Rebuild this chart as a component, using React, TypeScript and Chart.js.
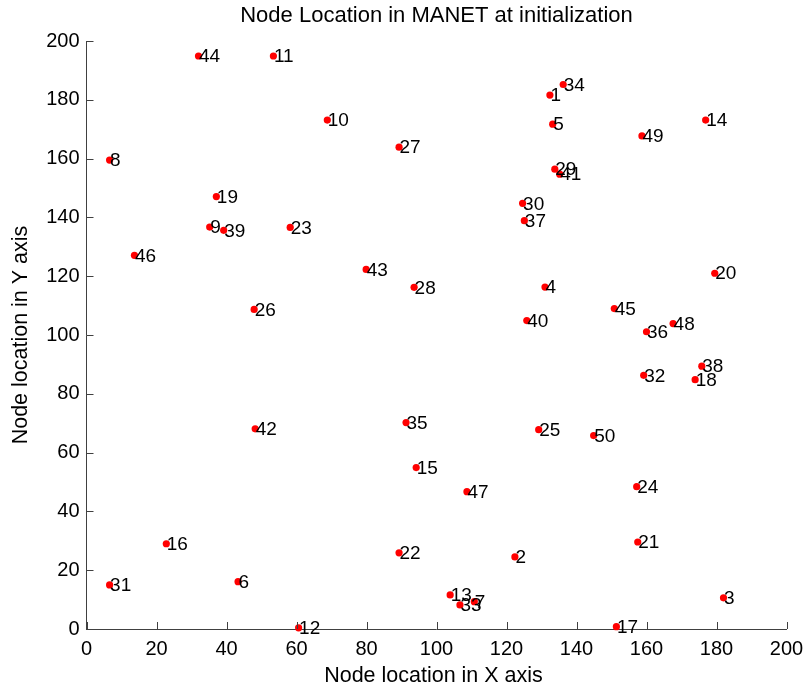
import React, { useEffect, useRef } from "react";
import { Chart, registerables } from "chart.js";

Chart.register(...registerables);

const nodeIds: string[] = [
  "1", "2", "3", "4", "5", "6", "7", "8", "9", "10",
  "11", "12", "13", "14", "15", "16", "17", "18", "19", "20",
  "21", "22", "23", "24", "25", "26", "27", "28", "29", "30",
  "31", "32", "33", "34", "35", "36", "37", "38", "39", "40",
  "41", "42", "43", "44", "45", "46", "47", "48", "49", "50",
];

const xs: number[] = [
  132.4, 122.4, 182.0, 131.0, 133.2, 43.3, 110.8, 6.6, 35.2, 68.8,
  53.4, 60.6, 103.9, 176.9, 94.2, 22.8, 151.4, 173.9, 37.1, 179.5,
  157.5, 89.3, 58.2, 157.2, 129.2, 47.9, 89.3, 93.6, 133.8, 124.6,
  6.6, 159.2, 106.7, 136.2, 91.3, 160.0, 125.1, 175.8, 39.2, 125.8,
  135.2, 48.2, 79.9, 32.0, 150.8, 13.7, 108.7, 167.6, 158.7, 144.9,
];

const ys: number[] = [
  181.6, 24.5, 10.6, 116.3, 171.7, 16.1, 9.3, 159.5, 136.7, 173.1,
  194.9, 0.4, 11.6, 173.1, 54.9, 29.0, 0.8, 84.8, 147.1, 121.0,
  29.6, 25.9, 136.6, 48.4, 67.8, 108.7, 163.9, 116.2, 156.4, 144.8,
  15.0, 86.3, 8.2, 185.2, 70.2, 101.1, 138.9, 89.4, 135.6, 104.9,
  154.7, 68.1, 122.3, 194.9, 109.0, 127.1, 46.7, 103.9, 167.7, 65.8,
];

const axisTicks: number[] = [0, 20, 40, 60, 80, 100, 120, 140, 160, 180, 200];

const chartTitle = "Node Location in MANET at initialization";
const xTitle = "Node location in X axis";
const yTitle = "Node location in Y axis";

const FONT = "'Liberation Sans', Arial, Helvetica, sans-serif";

const decorPlugin = {
  id: "matlabDecor",
  afterDatasetsDraw(chart: any) {
    const ctx = chart.ctx;
    const meta = chart.getDatasetMeta(0);
    ctx.save();
    ctx.fillStyle = "#000";
    ctx.font = `19px ${FONT}`;
    ctx.textAlign = "left";
    ctx.textBaseline = "middle";
    meta.data.forEach((el: any, i: number) => {
      ctx.fillText(nodeIds[i], el.x + 0.5, el.y + 1);
    });
    ctx.restore();
  },
  afterDraw(chart: any) {
    const ctx = chart.ctx;
    const area = chart.chartArea;
    const xs_ = chart.scales.x;
    const ys_ = chart.scales.y;
    ctx.save();
    ctx.strokeStyle = "#404040";
    ctx.lineWidth = 1;
    ctx.beginPath();
    axisTicks.forEach((v) => {
      const px = Math.round(xs_.getPixelForValue(v)) + 0.5;
      ctx.moveTo(px, area.bottom);
      ctx.lineTo(px, area.bottom - 7);
      const py = Math.round(ys_.getPixelForValue(v)) + 0.5;
      ctx.moveTo(area.left, py);
      ctx.lineTo(area.left + 7, py);
    });
    ctx.stroke();

    ctx.fillStyle = "#000";
    ctx.textAlign = "center";
    ctx.textBaseline = "middle";
    const cx = (area.left + area.right) / 2;
    ctx.font = `22px ${FONT}`;
    ctx.fillText(chartTitle, cx, 16);
    ctx.font = `21.5px ${FONT}`;
    ctx.fillText(xTitle, cx - 3, 676);
    ctx.translate(21, (area.top + area.bottom) / 2);
    ctx.rotate(-Math.PI / 2);
    ctx.fillText(yTitle, 0, 0);
    ctx.restore();
  },
};

export default function App() {
  const canvasRef = useRef<HTMLCanvasElement | null>(null);

  useEffect(() => {
    if (!canvasRef.current) return;
    const points = xs.map((x, i) => ({ x, y: ys[i] }));
    const chart = new Chart(canvasRef.current, {
      type: "scatter",
      data: {
        datasets: [
          {
            label: "Nodes",
            data: points,
            backgroundColor: "#ff0000",
            borderColor: "#ff0000",
            borderWidth: 0,
            pointRadius: 3.6,
            pointHoverRadius: 3.6,
            clip: false as any,
          },
        ],
      },
      options: {
        animation: false,
        responsive: false,
        devicePixelRatio: 1,
        layout: { padding: { top: 41, right: 17.5, left: 0, bottom: 0 } },
        plugins: {
          legend: { display: false },
          title: { display: false },
          tooltip: { enabled: false },
        },
        scales: {
          x: {
            type: "linear",
            min: 0,
            max: 200,
            afterFit: (scale: any) => {
              scale.height = 62;
              scale.paddingLeft = 0;
              scale.paddingRight = 0;
            },
            afterBuildTicks: (scale: any) => {
              scale.ticks = axisTicks.map((v) => ({ value: v }));
            },
            grid: { display: false, drawTicks: false },
            border: { display: true, color: "#404040", width: 1 },
            ticks: {
              autoSkip: false,
              maxRotation: 0,
              padding: 8,
              color: "#000",
              font: { family: FONT, size: 20 },
            },
          },
          y: {
            type: "linear",
            min: 0,
            max: 200,
            afterFit: (scale: any) => {
              scale.width = 86.5;
              scale.paddingTop = 0;
              scale.paddingBottom = 0;
            },
            afterBuildTicks: (scale: any) => {
              scale.ticks = axisTicks.map((v) => ({ value: v }));
            },
            grid: { display: false, drawTicks: false },
            border: { display: true, color: "#404040", width: 1 },
            ticks: {
              autoSkip: false,
              padding: 7,
              color: "#000",
              font: { family: FONT, size: 20 },
            },
          },
        },
      },
      plugins: [decorPlugin],
    });
    return () => chart.destroy();
  }, []);

  return (
    <div style={{ position: "fixed", left: 0, top: 0, width: 804, height: 691, background: "#fff" }}>
      <canvas ref={canvasRef} width={804} height={691} style={{ width: 804, height: 691 }} />
    </div>
  );
}
